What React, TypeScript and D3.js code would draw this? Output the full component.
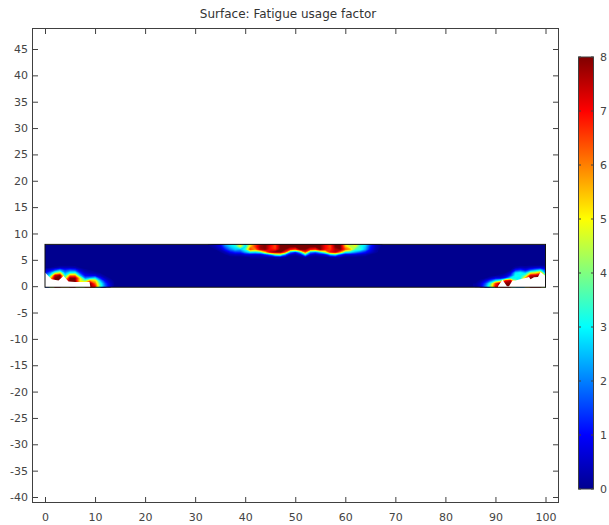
import React, { useRef, useEffect } from "react";
import * as d3 from "d3";

const xTicks = d3.range(0, 101, 10);
const yTicks = d3.range(-40, 46, 5);
const barTicks = [0, 1, 2, 3, 4, 5, 6, 7, 8];

// colour stops of the scale (value -> colour)
const colorValues = [0, 1, 3, 5, 7, 8];
const colorStops = ["#00008f", "#0000ff", "#00ffff", "#ffff00", "#ff0000", "#800000"];

// top edge band, x = 32..68 step 1, rows y = 8 .. 5.5 step 0.5
const centerX = [32, 1];
const centerY = [8, 0.5];
const centerRows = [
  [0, .2, .5, 1, 2.4, 3, 3.4, 5.6, 2.6, 4.6, 6.4, 7.4, 8, 7.4, 6.6, 8, 8, 8, 8, 8, 8, 8, 8, 8, 7, 6.6, 8, 8, 5, 4.5, 5.8, 3.4, 3, 1.6, .6, .2, 0],
  [0, .1, .3, .7, 1.8, 2.6, 3, 4.6, 2.8, 5.5, 6.6, 7.8, 8, 7, 6.4, 8, 8, 8, 8, 8, 8, 8, 8, 8, 7, 6.4, 8, 8, 5.6, 4.4, 4.6, 3.2, 2.6, 1.2, .4, .1, 0],
  [0, 0, .1, .4, 1.2, 2, 2.6, 2.4, 3.4, 6.6, 6, 7.6, 8, 7, 6.6, 8, 8, 7, 6.4, 8, 8, 7, 6.6, 8, 7, 6.6, 7.6, 8, 6.4, 5.6, 3.6, 3.4, 2.4, 1, .3, 0, 0],
  [0, 0, 0, .1, .4, 1, 1.4, 1.4, 2.4, 3.2, 3, 3.4, 5.5, 7.5, 8, 8, 6.5, 2.4, 1.4, 3, 6.5, 2.5, 2, 3, 4.5, 7, 7.5, 6, 3.4, 3, 2.4, 1.8, 1.2, .6, .2, 0, 0],
  [0, 0, 0, 0, .1, .3, .4, .4, .6, .6, .6, .6, 1.2, 2, 3.6, 4, 2, .4, .2, .6, 3, .6, .3, .5, .8, 2.4, 3, 1.4, .6, .6, .5, .4, .3, .1, 0, 0, 0],
  [0, 0, 0, 0, 0, 0, 0, 0, 0, .1, .1, .1, .1, .1, .2, .2, .1, 0, 0, 0, .2, 0, 0, 0, 0, .1, .2, .1, 0, 0, 0, 0, 0, 0, 0, 0, 0],
];

// left support, x = 0..14, rows y = 4 .. 0
const leftX = [0, 1];
const leftY = [4, 0.5];
const leftRows = [
  [0, 0, 0, 0, 0, 0, 0, 0, 0, 0, 0, 0, 0, 0, 0],
  [0, .1, .2, .4, .4, .4, .3, .1, 0, 0, 0, 0, 0, 0, 0],
  [.5, .8, 1.6, 2.4, 1.4, 1.8, 1.6, .6, .2, .1, 0, 0, 0, 0, 0],
  [1, 2, 4, 5, 2.2, 3.2, 3.4, 1.4, .5, .3, .2, .1, 0, 0, 0],
  [2, 3, 7.4, 8, 3, 6, 6, 2.6, 1, .8, .8, .4, .1, 0, 0],
  [2, 5, 8, 8, 4, 8, 8, 5, 2, 2.4, 3, 1.2, .4, .1, 0],
  [2, 5, 8, 8, 6, 8, 8, 5, 4, 6, 5.4, 2.6, 1, .3, 0],
  [2, 5, 8, 8, 6, 8, 8, 5, 6, 8, 6.2, 3.4, 1.6, .5, 0],
  [2, 5, 8, 8, 6, 8, 8, 5, 7, 8, 7, 3.6, 1.8, .6, 0],
];

// right support, x = 86..100, rows y = 4 .. 0
const rightX = [86, 1];
const rightY = [4, 0.5];
const rightRows = [
  [0, 0, 0, 0, 0, 0, 0, 0, 0, 0, 0, 0, 0, 0, 0],
  [0, 0, 0, 0, 0, 0, 0, 0, .2, .4, .3, .5, .6, .7, .5],
  [0, 0, 0, 0, 0, 0, 0, .1, 1.2, 1.6, 1, 1.8, 2.4, 3, 1.4],
  [0, 0, 0, 0, 0, 0, .1, .6, 2.8, 3.2, 2.6, 4.6, 5, 6, 2],
  [0, 0, 0, 0, .1, .2, .5, 1.4, 3.2, 3, 4, 7.4, 7.6, 8, 4],
  [0, 0, .1, .4, .8, .8, 1.4, 3, 3, 3, 6, 8, 8, 8, 5],
  [0, .2, .8, 1.8, 3, 3.8, 7, 7.6, 4, 3, 6, 8, 8, 8, 5],
  [.1, .5, 1.6, 3.4, 6.5, 8, 8, 8, 4, 3, 6, 8, 8, 8, 5],
  [.1, .6, 2, 4, 7, 8, 8, 8, 4, 3, 6, 8, 8, 8, 5],
];

// cut-outs at the lower corners of the beam (x, y in data units)
const leftCut: [number, number][] = [[0, -1], [0, 2.6], [1.3, 1.3], [2.7, 1.1], [3.7, 1.95], [4.7, .9], [6, .8], [8.9, .8], [9.2, -1]];
const rightCut: [number, number][] = [[90.5, -1], [90.5, 0], [91.4, 1.2], [92.3, 0], [92.7, 0], [93.4, 1.1], [94, 1.1], [95.3, 1.4], [96, 1.56], [96.7, 1.75], [97, 1.3], [97.7, 1.7], [98.5, 1.75], [99, 2.7], [100, 1.95], [100, -1]];

const beamTop = 7.93;
const beamBottom = -0.2;
const beamRight = 100;

const x = d3.scaleLinear().domain([0, 100]).range([45, 545.5]);
const y = d3.scaleLinear().domain([-40, 45]).range([497, 49]);
const barY = d3.scaleLinear().domain([0, 8]).range([489, 57]);
const color = d3.scaleLinear<string>().domain(colorValues).range(colorStops).interpolate(d3.interpolateRgb);

const thresholds = d3.range(0.1, 8.01, 0.1);
const FRAME = "#404040";
const FONT = "'DejaVu Sans', sans-serif";

// one heat patch, drawn as stacked contour bands
const Patch = ({ rows, xs, ys }: { rows: number[][]; xs: number[]; ys: number[] }) => {
  const n = rows[0].length;
  const m = rows.length;
  const bands = d3.contours().size([n, m]).thresholds(thresholds)(rows.flat());
  const path = d3.geoPath(
    d3.geoTransform({
      point(px, py) {
        this.stream.point(x(xs[0] + (px - 0.5) * xs[1]), y(ys[0] - (py - 0.5) * ys[1]));
      },
    })
  );
  return (
    <g>
      {bands.map((b) => (
        <path key={b.value} d={path(b) || ""} fill={color(b.value + 0.05)} />
      ))}
    </g>
  );
};

const App = () => {
  const axesRef = useRef<SVGGElement>(null);

  useEffect(() => {
    const g = d3.select(axesRef.current);
    g.selectAll("*").remove();

    const style = (sel: any) => {
      sel.select(".domain").remove();
      sel.selectAll("line").attr("stroke", FRAME);
      sel.selectAll("text").attr("fill", "#444").style("font-family", FONT).style("font-size", "11px");
    };

    g.append("g").attr("transform", "translate(0,502)")
      .call(d3.axisBottom(x).tickValues(xTicks).tickSizeInner(-5).tickPadding(11).tickFormat((d) => String(d)))
      .call(style);
    g.append("g").attr("transform", "translate(0,29)")
      .call(d3.axisTop(x).tickValues(xTicks).tickSizeInner(-5).tickFormat(() => ""))
      .call(style);
    g.append("g").attr("transform", "translate(33,0)")
      .call(d3.axisLeft(y).tickValues(yTicks).tickSizeInner(-5).tickPadding(5).tickFormat((d) => String(d)))
      .call(style);
    g.append("g").attr("transform", "translate(558,0)")
      .call(d3.axisRight(y).tickValues(yTicks).tickSizeInner(-5).tickFormat(() => ""))
      .call(style);
  }, []);

  const cutLine = d3.line().x((d) => x(d[0])).y((d) => y(d[1]));
  const beamX = x(0);
  const beamY = y(beamTop);
  const beamW = x(beamRight) - x(0);
  const beamH = y(beamBottom) - y(beamTop);

  return (
    <svg width={609} height={525} style={{ position: "absolute", left: 0, top: 0, display: "block", background: "#fff" }}>
      <defs>
        <clipPath id="beam">
          <rect x={beamX} y={beamY} width={beamW} height={beamH} />
        </clipPath>
        <linearGradient id="bar" x1="0" y1="1" x2="0" y2="0">
          {colorValues.map((v, i) => (
            <stop key={v} offset={v / 8} stopColor={colorStops[i]} />
          ))}
        </linearGradient>
      </defs>

      <text x={288} y={18} textAnchor="middle" fontFamily={FONT} fontSize={12} fill="#333">
        Surface: Fatigue usage factor
      </text>

      <rect x={32.5} y={28.5} width={526} height={474} fill="#fff" stroke={FRAME} />

      <g clipPath="url(#beam)">
        <rect x={beamX} y={beamY} width={beamW} height={beamH} fill={colorStops[0]} />
        <Patch rows={centerRows} xs={centerX} ys={centerY} />
        <Patch rows={leftRows} xs={leftX} ys={leftY} />
        <Patch rows={rightRows} xs={rightX} ys={rightY} />
        <path d={cutLine(leftCut) + "Z"} fill="#fff" />
        <path d={cutLine(rightCut) + "Z"} fill="#fff" />
      </g>
      <rect x={beamX} y={beamY} width={beamW} height={beamH} fill="none" stroke="#111" />

      <g ref={axesRef} />

      <rect x={578.5} y={57} width={15} height={432} fill="url(#bar)" stroke={FRAME} />
      {barTicks.map((t) => (
        <g key={t}>
          <line x1={578.5} x2={581} y1={barY(t)} y2={barY(t)} stroke={FRAME} />
          <line x1={591} x2={593.5} y1={barY(t)} y2={barY(t)} stroke={FRAME} />
          <text x={600} y={barY(t) + 4} fontFamily={FONT} fontSize={11} fill="#444">
            {t}
          </text>
        </g>
      ))}
    </svg>
  );
};

export default App;
